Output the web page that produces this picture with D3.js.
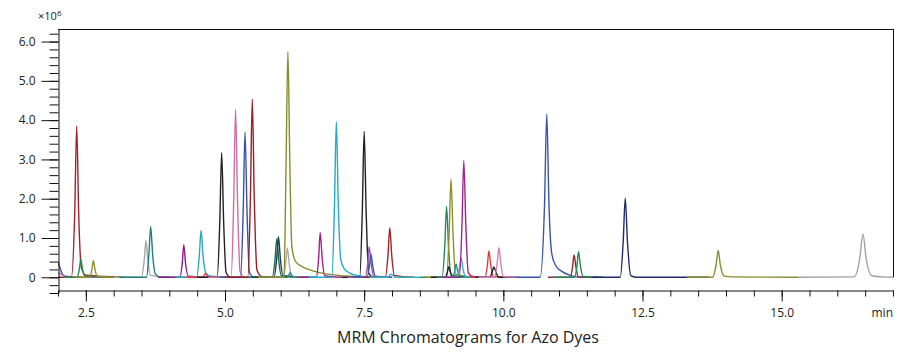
<!DOCTYPE html>
<html>
<head>
<meta charset="utf-8">
<script src="https://cdn.jsdelivr.net/npm/d3@7"></script>
<style>
  body { margin: 0; background: #fff; }
  svg text { font-family: "Open Sans", "DejaVu Sans", sans-serif; fill: #222; }
</style>
</head>
<body>
<svg id="chart" width="923" height="362"></svg>
<script>
// acquisition window (min) and intensity window (x10^6 counts)
const timeRange = [2, 17];
const intensityRange = [-0.4, 6.32];
const xMajorTicks = [2.5, 5, 7.5, 10, 12.5, 15];
const yMajorTicks = [0, 1, 2, 3, 4, 5, 6];
const xLabel = "min";
const chartTitle = "MRM Chromatograms for Azo Dyes";

// one MRM trace per entry: [time (min), intensity (x10^6)]
const tracePoints = [
  [[2.0, 0.40], [2.04, 0.22], [2.08, 0.08], [2.14, 0.02], [2.3, 0], [3.0, 0]],
  [[2.0, 0.12], [2.06, 0.07], [2.15, 0.03], [2.4, 0.01], [3.1, 0]],
  [[2.0, 0], [2.24, 0], [2.3, 1.6], [2.336, 3.85], [2.372, 1.6], [2.42, 0.25], [2.5, 0.05], [3.2, 0]],
  [[2.1, 0], [2.34, 0], [2.383, 0.2], [2.41, 0.46], [2.44, 0.2], [2.49, 0.03], [3.0, 0]],
  [[2.3, 0], [2.57, 0], [2.608, 0.19], [2.635, 0.42], [2.665, 0.19], [2.71, 0.02], [3.1, 0]],
  [[3.0, 0], [3.5, 0], [3.548, 0.42], [3.58, 0.93], [3.615, 0.42], [3.66, 0.05], [4.0, 0]],
  [[3.1, 0], [3.59, 0], [3.633, 0.58], [3.665, 1.29], [3.7, 0.58], [3.75, 0.08], [3.85, 0], [4.3, 0]],
  [[3.8, 0], [4.19, 0], [4.233, 0.37], [4.26, 0.83], [4.29, 0.37], [4.34, 0.03], [4.7, 0]],
  [[4.1, 0], [4.49, 0], [4.538, 0.54], [4.57, 1.2], [4.605, 0.55], [4.66, 0.1], [4.75, 0.03], [5.1, 0]],
  [[4.3, 0], [4.6, 0], [4.63, 0.06], [4.65, 0.1], [4.67, 0.06], [4.7, 0], [5.0, 0]],
  [[4.5, 0], [4.86, 0], [4.906, 1.4], [4.94, 3.17], [4.976, 1.4], [5.02, 0.12], [5.1, 0], [5.4, 0]],
  [[4.7, 0], [5.11, 0], [5.156, 1.9], [5.19, 4.28], [5.226, 1.9], [5.27, 0.15], [5.35, 0], [5.7, 0]],
  [[4.9, 0], [5.28, 0], [5.326, 1.65], [5.36, 3.69], [5.396, 1.65], [5.44, 0.12], [5.52, 0], [5.9, 0]],
  [[5.0, 0], [5.41, 0], [5.456, 2.0], [5.49, 4.53], [5.526, 2.0], [5.575, 0.18], [5.66, 0.02], [6.0, 0]],
  [[5.4, 0], [5.85, 0], [5.898, 0.44], [5.93, 0.98], [5.965, 0.44], [6.01, 0.04], [6.4, 0]],
  [[5.5, 0], [5.88, 0], [5.928, 0.46], [5.96, 1.03], [5.995, 0.46], [6.04, 0.04], [6.5, 0]],
  [[5.6, 0], [6.05, 0], [6.088, 0.33], [6.12, 0.74], [6.155, 0.33], [6.2, 0.03], [6.6, 0]],
  [[5.7, 0], [6.12, 0], [6.15, 0.07], [6.17, 0.12], [6.19, 0.07], [6.23, 0], [6.6, 0]],
  [[5.6, 0], [6.06, 0], [6.096, 2.8], [6.13, 5.74], [6.166, 2.8], [6.2, 0.8], [6.26, 0.42], [6.35, 0.3], [6.5, 0.2], [6.7, 0.12], [6.95, 0.06], [7.3, 0.02], [7.6, 0]],
  [[6.3, 0], [6.64, 0], [6.683, 0.5], [6.71, 1.14], [6.745, 0.5], [6.79, 0.04], [7.1, 0]],
  [[6.5, 0], [6.92, 0], [6.966, 1.8], [7.0, 3.96], [7.036, 1.8], [7.08, 0.45], [7.14, 0.22], [7.25, 0.1], [7.4, 0.04], [7.6, 0]],
  [[7.1, 0], [7.42, 0], [7.466, 1.65], [7.5, 3.71], [7.536, 1.65], [7.58, 0.12], [7.66, 0], [7.9, 0]],
  [[7.2, 0], [7.52, 0], [7.563, 0.35], [7.59, 0.78], [7.625, 0.35], [7.67, 0.03], [8.0, 0]],
  [[7.3, 0], [7.55, 0], [7.593, 0.27], [7.62, 0.6], [7.655, 0.27], [7.7, 0.02], [8.0, 0]],
  [[7.5, 0], [7.88, 0], [7.928, 0.56], [7.96, 1.26], [7.995, 0.56], [8.04, 0.05], [8.4, 0]],
  [[7.6, 0], [7.93, 0], [7.96, 0.06], [7.98, 0.08], [8.01, 0.06], [8.05, 0], [8.5, 0]],
  [[8.5, 0], [8.9, 0], [8.948, 0.8], [8.98, 1.8], [9.015, 0.8], [9.06, 0.06], [9.4, 0]],
  [[8.6, 0], [8.98, 0], [9.027, 1.12], [9.06, 2.5], [9.096, 1.12], [9.14, 0.08], [9.5, 0]],
  [[8.7, 0], [8.96, 0], [8.995, 0.13], [9.02, 0.27], [9.05, 0.13], [9.09, 0], [9.4, 0]],
  [[8.8, 0], [9.09, 0], [9.125, 0.15], [9.15, 0.34], [9.18, 0.15], [9.22, 0], [9.5, 0]],
  [[8.9, 0], [9.17, 0], [9.21, 0.22], [9.24, 0.5], [9.275, 0.22], [9.32, 0.01], [9.6, 0]],
  [[8.9, 0], [9.21, 0], [9.257, 1.33], [9.29, 2.97], [9.326, 1.33], [9.37, 0.12], [9.45, 0.02], [9.8, 0]],
  [[9.4, 0], [9.67, 0], [9.713, 0.3], [9.74, 0.67], [9.775, 0.3], [9.82, 0.02], [10.1, 0]],
  [[9.5, 0], [9.76, 0], [9.8, 0.14], [9.83, 0.26], [9.87, 0.12], [9.92, 0], [10.2, 0]],
  [[9.55, 0], [9.84, 0], [9.888, 0.34], [9.92, 0.75], [9.956, 0.34], [10.0, 0.02], [10.3, 0]],
  [[10.2, 0], [10.66, 0], [10.74, 1.85], [10.78, 4.16], [10.82, 1.85], [10.87, 0.6], [10.94, 0.3], [11.05, 0.15], [11.2, 0.05], [11.4, 0], [11.6, 0]],
  [[10.8, 0], [11.2, 0], [11.243, 0.26], [11.27, 0.57], [11.305, 0.26], [11.35, 0.01], [11.7, 0]],
  [[10.9, 0], [11.28, 0], [11.323, 0.29], [11.35, 0.65], [11.385, 0.29], [11.43, 0.02], [11.8, 0]],
  [[11.6, 0], [12.1, 0], [12.153, 0.9], [12.19, 2.01], [12.23, 0.9], [12.29, 0.04], [12.38, 0], [13.7, 0]],
  [[13.3, 0], [13.76, 0], [13.82, 0.3], [13.86, 0.68], [13.9, 0.3], [13.97, 0.03], [14.1, 0.01], [15.3, 0]],
  [[15.3, 0], [16.3, 0.01], [16.4, 0.45], [16.46, 1.1], [16.52, 0.45], [16.62, 0.04], [16.8, 0.01], [17.0, 0]]
];

const traceColors = [
  "#4b4c9c", "#b77bb5", "#a3222a", "#1f8a52", "#8f8f2c", "#a6a6a6", "#1d7f7f", "#8e1b88",
  "#27a9c2", "#e23b3b", "#222222", "#cc6fa9", "#3452ae", "#9e1c22", "#1b6e52", "#1b3c4c",
  "#a9a9a9", "#2b8c7c", "#8a8a2c", "#a0228e", "#23abc9", "#202020", "#9b55b3", "#4453ad",
  "#a3222a", "#34b2c9", "#1f8a52", "#8f8f2c", "#202020", "#2b8c82", "#34b2c9", "#a0228e",
  "#e23b3b", "#202020", "#d37fbf", "#3a52aa", "#a3222a", "#1f8a52", "#1e2b6b", "#8a8a30",
  "#a2a2a2"
];

const plot = { left: 58, right: 893, top: 29, bottom: 293, xAxisY: 290 };
const svg = d3.select("#chart");

const x = d3.scaleLinear().domain(timeRange).range([plot.left, plot.right]);
const y = d3.scaleLinear().domain(intensityRange).range([plot.bottom, plot.top]);

// clip traces to the plot area
svg.append("clipPath").attr("id", "plotClip")
  .append("rect")
  .attr("x", plot.left).attr("y", plot.top)
  .attr("width", plot.right - plot.left).attr("height", y(0) - plot.top + 2);

// frame: top and right border
svg.append("line")
  .attr("x1", plot.left).attr("x2", plot.right)
  .attr("y1", plot.top + 0.5).attr("y2", plot.top + 0.5)
  .attr("stroke", "#111");
svg.append("line")
  .attr("x1", plot.right + 0.5).attr("x2", plot.right + 0.5)
  .attr("y1", plot.top).attr("y2", y(0))
  .attr("stroke", "#111");

// traces
const line = d3.line()
  .x(d => x(d[0]))
  .y(d => y(d[1]))
  .curve(d3.curveMonotoneX);

svg.append("g")
  .attr("clip-path", "url(#plotClip)")
  .selectAll("path")
  .data(tracePoints)
  .enter()
  .append("path")
  .attr("d", d => line(d))
  .attr("fill", "none")
  .attr("stroke", (d, i) => traceColors[i % traceColors.length])
  .attr("stroke-width", 1.4)
  .attr("stroke-linejoin", "round");

// y axis: minor every 0.2, major every 1.0
const yMinor = d3.range(-2, 32).map(v => v / 5);
svg.append("g")
  .attr("transform", `translate(${plot.left + 0.5},0)`)
  .call(d3.axisLeft(y).tickValues(yMinor).tickSize(9).tickSizeOuter(0).tickFormat(""))
  .call(g => g.selectAll("path,line").attr("stroke", "#111"));
svg.append("g")
  .attr("transform", `translate(${plot.left + 0.5},0)`)
  .call(d3.axisLeft(y).tickValues(yMajorTicks).tickSize(17).tickPadding(6)
    .tickFormat(d => d === 0 ? "0" : d.toFixed(1)))
  .call(g => g.select(".domain").remove())
  .call(g => g.selectAll("line").attr("stroke", "#111"))
  .call(g => g.selectAll("text").style("font-size", "12px").attr("fill", "#222"));

// x axis: minor every 0.5, major every 2.5
const xMinor = d3.range(4, 35).map(v => v / 2);
svg.append("g")
  .attr("transform", `translate(0,${plot.xAxisY + 0.5})`)
  .call(d3.axisBottom(x).tickValues(xMinor).tickSize(6).tickSizeOuter(0).tickFormat(""))
  .call(g => g.selectAll("path,line").attr("stroke", "#111"));
svg.append("g")
  .attr("transform", `translate(0,${plot.xAxisY + 0.5})`)
  .call(d3.axisBottom(x).tickValues(xMajorTicks).tickSize(11).tickPadding(7)
    .tickFormat(d3.format(".1f")))
  .call(g => g.select(".domain").remove())
  .call(g => g.selectAll("line").attr("stroke", "#111"))
  .call(g => g.selectAll("text").style("font-size", "12px").attr("fill", "#222"));

// x unit, title, y scale factor
svg.append("text")
  .attr("x", plot.right)
  .attr("y", 317)
  .attr("text-anchor", "end")
  .style("font-size", "12px")
  .text(xLabel);

svg.append("text")
  .attr("x", 468)
  .attr("y", 343)
  .attr("text-anchor", "middle")
  .style("font-size", "16px")
  .text(chartTitle);

const scaleLabel = svg.append("text")
  .attr("x", 38)
  .attr("y", 20)
  .style("font-size", "11px");
scaleLabel.append("tspan").text("×10");
scaleLabel.append("tspan").attr("dy", "-4").style("font-size", "8px").text("6");
</script>
</body>
</html>
